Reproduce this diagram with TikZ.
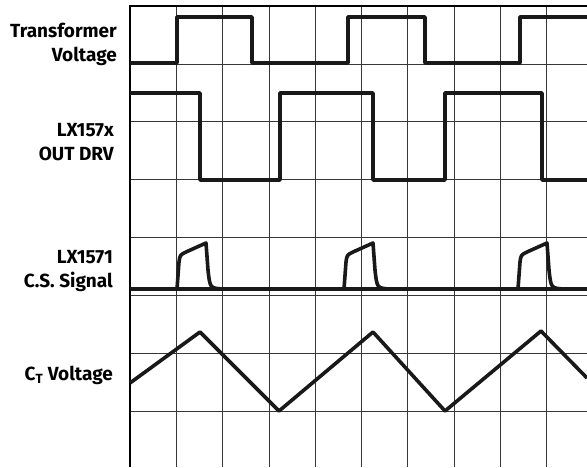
\documentclass[tikz,border=0pt]{standalone}
\usepackage{fontspec}
\setmainfont{Fira Sans}
\usepackage{tikz}
\usetikzlibrary{positioning}
\definecolor{gridgray}{RGB}{55,55,55}
\tikzstyle{wave} = [line width=3.6pt,line join=round,color=black!90]
\tikzstyle{gridline} = [line width=0.8pt,color=gridgray]
\tikzstyle{siglabel} = [anchor=north east,align=right,inner sep=0pt,font=\fontsize{19}{24}\selectfont\bfseries]

\begin{document}
\begin{tikzpicture}[x=1pt,y=-1pt]
\useasboundingbox (0,0) rectangle (587,467);
% Grid
\foreach \k in {1,...,9} \draw[gridline] (130+46.3*\k,6) -- (130+46.3*\k,467);
\foreach \k in {1,...,7} \draw[gridline] (130,6+57.9*\k) -- (587,6+57.9*\k);
\draw[line width=1.6pt] (587,6) -- (130,6) -- (130,467);

% Labels
\node[siglabel] (trafo) at (117,23) {Transformer\\Voltage};
\node[siglabel] (outdrv) at (114,123) {LX157x\\OUT DRV};
\node[siglabel] (cssig) at (113,250) {LX1571\\C.S. Signal};
\node[siglabel] (ctvolt) at (113,366) {C\textsubscript{T} Voltage};

% Transformer voltage
\draw[wave] (130,63) -- (177,63) -- (177,17) -- (252,17) -- (252,63) -- (348,63) -- (348,17)
  -- (425,17) -- (425,63) -- (520,63) -- (520,17) -- (587,17);

% Output drive
\draw[wave] (130,93) -- (200,93) -- (200,180) -- (280,180) -- (280,93) -- (373,93) -- (373,180)
  -- (445,180) -- (445,93) -- (542,93) -- (542,180) -- (587,180);

% Current sense
\draw[wave] (130,289) -- (587,289);
\foreach \s in {177,344,518}
  \draw[wave] (\s,289) -- (\s+2,262) .. controls (\s+3,255) .. (\s+9,252) -- (\s+29,243)
    -- (\s+31,270) .. controls (\s+33,288) .. (\s+45,289);

% Timing capacitor
\draw[wave] (130,383) -- (200,332) -- (279,411) -- (373,332) -- (445,411) -- (541,331) -- (587,378);
\end{tikzpicture}
\end{document}
